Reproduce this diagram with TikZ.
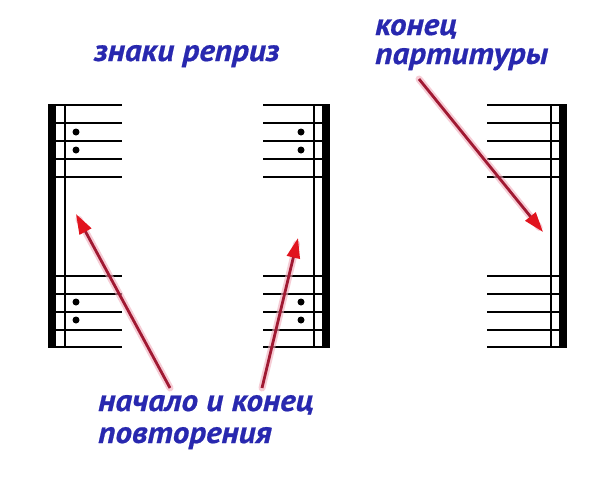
\documentclass[tikz,border=0pt]{standalone}
\usepackage{fontspec}
\newfontfamily\lblfont{PT Sans}[FakeStretch=1.07, BoldItalicFeatures={FakeBold=0.6}]
\usetikzlibrary{arrows.meta}
\definecolor{lblblue}{RGB}{40,40,175}
\definecolor{shaft}{RGB}{160,25,50}
\definecolor{headred}{RGB}{225,20,30}
\definecolor{glow}{RGB}{240,170,185}
\tikzset{
  lbl/.style={font=\lblfont\bfseries\itshape\fontsize{31}{31}\selectfont, text=lblblue, inner sep=0pt, anchor=base west},
  staffline/.style={line width=2.3pt, line cap=butt},
  thinbar/.style={line width=2.4pt},
  thickbar/.style={line width=8pt},
  dotm/.style={circle, fill=black, inner sep=0pt, minimum size=7pt},
  glowline/.style={draw=glow, line width=7pt, opacity=0.6, line cap=round, shorten >=6pt},
  redarrow/.style={draw=shaft, line width=2.8pt, -{Triangle[length=20pt,width=13pt,color=headred]}},
}
\begin{document}
\begin{tikzpicture}[x=1pt,y=-1pt]
\useasboundingbox (0,0) rectangle (600,482);
\fill[white] (0,0) rectangle (600,482);

% ---- left group (start repeat) ----
\foreach \y in {105,123,141,159,177,276,294,312,330,347}
  \draw[staffline] (48,\y) -- (122,\y);
\draw[thickbar] (52,104) -- (52,348);
\draw[thinbar] (65,104) -- (65,348);
\foreach \y in {132,150,302,320}
  \node[dotm] at (76,\y) {};

% ---- middle group (end repeat) ----
\foreach \y in {105,123,141,159,177,276,294,312,330,347}
  \draw[staffline] (263,\y) -- (330,\y);
\draw[thinbar] (314,104) -- (314,348);
\draw[thickbar] (325.5,104) -- (325.5,348);
\foreach \y in {132,150,302,320}
  \node[dotm] at (301,\y) {};

% ---- right group (final barline) ----
\foreach \y in {105,123,141,159,177,276,294,312,330,347}
  \draw[staffline] (487,\y) -- (567,\y);
\draw[thinbar] (551,104) -- (551,348);
\draw[thickbar] (562.5,104) -- (562.5,348);

% ---- labels ----
\node[lbl] (t1) at (94,61) {знаки реприз};
\node[lbl] (t2a) at (375,35) {конец};
\node[lbl] (t2b) at (375,64) {партитуры};
\node[lbl] (t3a) at (98,411) {начало и конец};
\node[lbl] (t3b) at (98,443) {повторения};

% ---- arrows ----
\coordinate (a1s) at (170,388); \coordinate (a1e) at (76,214);
\coordinate (a2s) at (262,388); \coordinate (a2e) at (298,238);
\coordinate (a3s) at (419,79);  \coordinate (a3e) at (543,232);
\foreach \s/\e in {a1s/a1e,a2s/a2e,a3s/a3e}{
  \draw[glowline] (\s) -- (\e);
  \draw[redarrow] (\s) -- (\e);
}
\end{tikzpicture}
\end{document}
